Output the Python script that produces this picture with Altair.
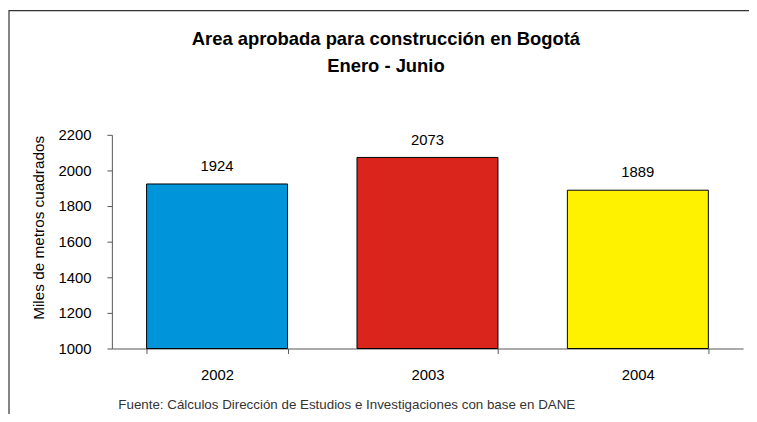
import altair as alt
import pandas as pd

years = ["2002", "2003", "2004"]
values = [1924, 2073, 1889]
colors = ["#0095DA", "#DA251D", "#FFF200"]
y_ticks = [1000, 1200, 1400, 1600, 1800, 2000, 2200]

title_lines = ["Area aprobada para construcción en Bogotá", "Enero - Junio"]
y_title = "Miles de metros cuadrados"
source = "Fuente: Cálculos Dirección de Estudios e Investigaciones con base en DANE"

df = pd.DataFrame({"year": years, "value": values, "color": colors})

x = alt.X(
    "year:N",
    sort=years,
    scale=alt.Scale(paddingInner=0.33, paddingOuter=0.165),
    axis=alt.Axis(
        title=source,
        labelAngle=0,
        tickBand="extent",
        tickSize=5,
        labelPadding=14,
        labelFontSize=15,
        labelColor="#000000",
        domainColor="#555555",
        tickColor="#555555",
        titleFontSize=13.5,
        titleFontWeight="normal",
        titleColor="#333333",
        titleX=6,
        titleY=61,
        titleAlign="left",
        titleBaseline="alphabetic",
        titleAnchor="start",
    ),
)
y = alt.Y(
    "value:Q",
    scale=alt.Scale(domain=[1000, 2200], zero=False, nice=False),
    axis=alt.Axis(
        title=y_title,
        values=y_ticks,
        format="d",
        labelOverlap=False,
        tickSize=5,
        labelPadding=16,
        labelFontSize=15,
        labelColor="#000000",
        domainColor="#555555",
        tickColor="#555555",
        grid=False,
        titleFontSize=15.5,
        titleFontWeight="normal",
        titleColor="#000000",
        titleX=-69,
        titleY=93.5,
        titleAngle=270,
        titleAlign="center",
        titleBaseline="alphabetic",
    ),
)

base = alt.Chart(df)

bars = base.mark_bar(stroke="#000000", strokeWidth=1).encode(
    x=x,
    y=y,
    y2=alt.datum(1000),
    color=alt.Color("color:N", scale=None),
)

labels = base.mark_text(fontSize=15, baseline="alphabetic", dy=-13, color="#000000").encode(
    x=x,
    y=y,
    text=alt.Text("value:Q"),
)

frame = alt.Chart(pd.DataFrame({"f": [0]})).mark_rect(
    fill=None, stroke="#333333", strokeWidth=1.2, clip=False
).encode(
    x=alt.value(-104),
    x2=alt.value(700),
    y=alt.value(-125.5),
    y2=alt.value(320),
)

chart = (
    alt.layer(frame, bars, labels)
    .properties(
        width=638,
        height=216,
        padding={"left": 105, "top": 126, "right": 6, "bottom": 64},
        autosize=alt.AutoSizeParams(type="none"),
        title=alt.TitleParams(
            text=title_lines,
            fontSize=18.6,
            fontWeight="bold",
            color="#000000",
            anchor="middle",
            frame="group",
            dx=-42,
            offset=-66,
            lineHeight=27,
        ),
    )
    .configure(font="Liberation Sans")
    .configure_view(stroke=None)
)

chart.save("out.html", embed_options={"renderer": "svg", "actions": False})
